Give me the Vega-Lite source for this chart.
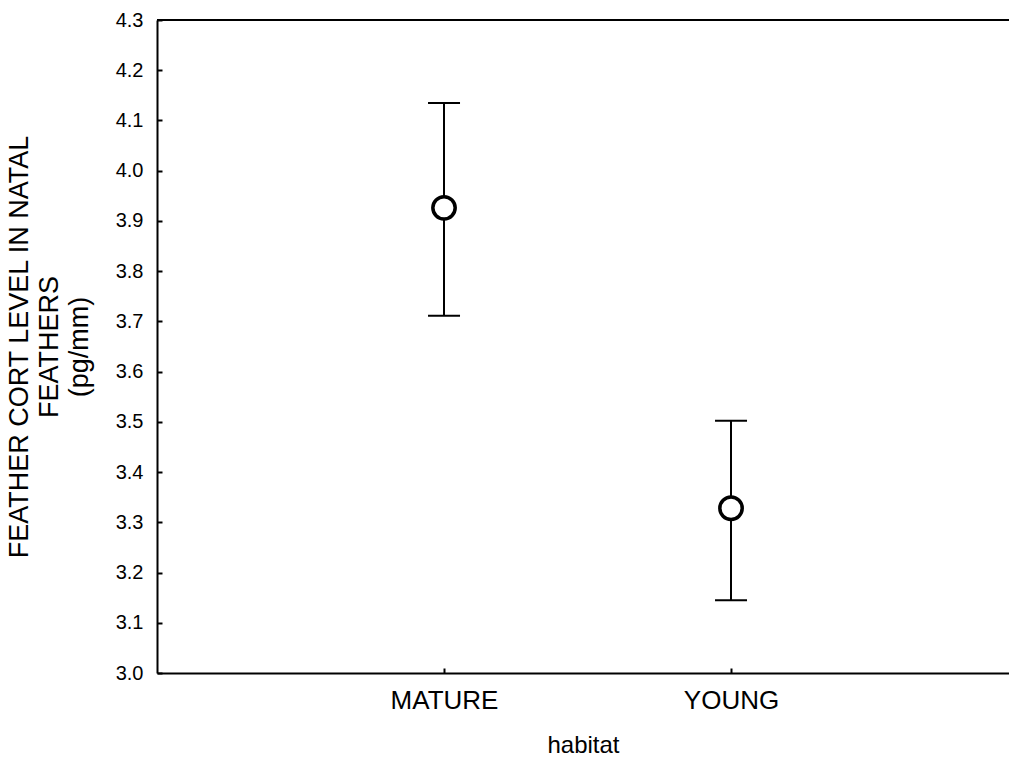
{
  "$schema": "https://vega.github.io/schema/vega-lite/v6.json",
  "autosize": "none",
  "width": 852,
  "height": 653,
  "padding": {"left": 157, "top": 20, "right": 0, "bottom": 85},
  "background": "white",
  "config": {
    "view": {"stroke": null},
    "font": "Liberation Sans",
    "axis": {"grid": false, "domainColor": "black", "domainWidth": 2, "tickColor": "black", "tickWidth": 2, "labelColor": "black", "titleColor": "black", "titleFontWeight": "normal", "labelFont": "Liberation Sans", "titleFont": "Liberation Sans"}
  },
  "data": {"values": [
    {"habitat": "MATURE", "mean": 3.926, "lower": 3.711, "upper": 4.135},
    {"habitat": "YOUNG", "mean": 3.328, "lower": 3.145, "upper": 3.502}
  ]},
  "layer": [
    {
      "mark": {"type": "rule", "color": "black", "strokeWidth": 2},
      "encoding": {
        "x": {"field": "habitat", "type": "nominal", "sort": null,
          "scale": {"type": "point", "padding": 0.9843, "align": 0.508},
          "axis": {"title": "habitat", "labelAngle": 0, "labelFontSize": 26, "titleFontSize": 24, "tickSize": -5, "labelPadding": 19, "titlePadding": 20}},
        "y": {"field": "lower", "type": "quantitative",
          "scale": {"domain": [3.0, 4.3], "nice": false, "zero": false},
          "axis": {"title": ["FEATHER CORT LEVEL IN NATAL", "FEATHERS", "(pg/mm)"], "values": [3.0, 3.1, 3.2, 3.3, 3.4, 3.5, 3.6, 3.7, 3.8, 3.9, 4.0, 4.1, 4.2, 4.3], "format": ".1f", "labelFontSize": 20, "titleFontSize": 27, "titleLineHeight": 30, "tickSize": -5, "labelPadding": 19, "titlePadding": 22}},
        "y2": {"field": "upper"}
      }
    },
    {
      "mark": {"type": "tick", "color": "black", "thickness": 2, "size": 32, "opacity": 1},
      "encoding": {
        "x": {"field": "habitat", "type": "nominal", "sort": null},
        "y": {"field": "upper", "type": "quantitative"}
      }
    },
    {
      "mark": {"type": "tick", "color": "black", "thickness": 2, "size": 32, "opacity": 1},
      "encoding": {
        "x": {"field": "habitat", "type": "nominal", "sort": null},
        "y": {"field": "lower", "type": "quantitative"}
      }
    },
    {
      "mark": {"type": "point", "shape": "circle", "size": 500, "filled": false, "fill": "white", "fillOpacity": 1, "stroke": "black", "strokeWidth": 3.5, "opacity": 1},
      "encoding": {
        "x": {"field": "habitat", "type": "nominal", "sort": null},
        "y": {"field": "mean", "type": "quantitative"}
      }
    },
    {
      "mark": {"type": "rule", "color": "black", "strokeWidth": 2},
      "encoding": {"y": {"datum": 4.3}}
    }
  ]
}
